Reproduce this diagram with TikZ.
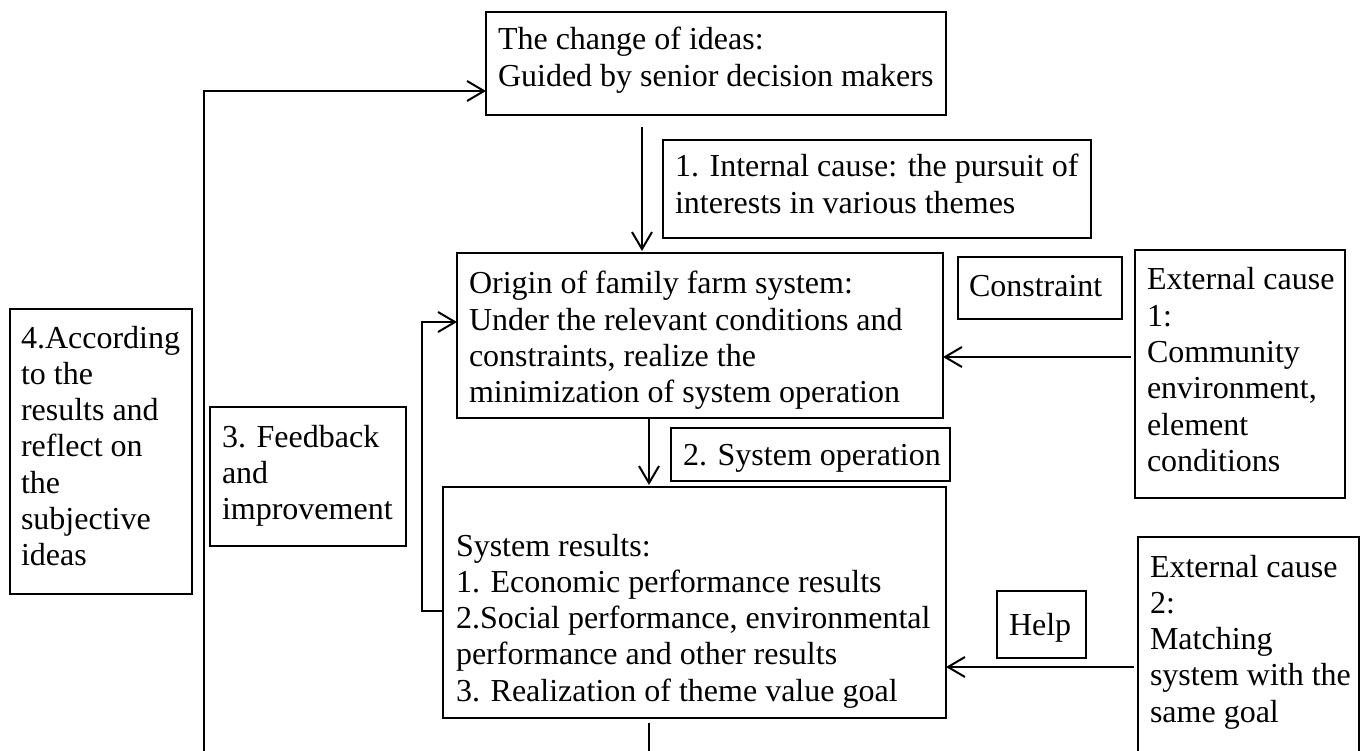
\documentclass[tikz,border=0pt]{standalone}
\usepackage{fontspec}
\setmainfont{Liberation Serif}
\usetikzlibrary{arrows.meta}
\newcommand{\bxt}[5]{\parbox[t][#2][t]{#1}{\raggedright\leftskip=#3\relax\rule{0pt}{#4}#5}}
\tikzset{
  bx/.style={draw, line width=1.3pt, inner sep=0pt, outer sep=0pt, anchor=north west,
    font=\fontsize{32}{36.3}\selectfont},
  conn/.style={line width=2pt, -{Straight Barb[length=17pt,width=20pt]}},
  link/.style={line width=2pt}
}
\begin{document}
\begin{tikzpicture}[x=1pt,y=-1pt]
\useasboundingbox (0,0) rectangle (1365,751);
\clip (0,0) rectangle (1365,751);
% boxes
\node[bx] (top) at (486,12) {\bxt{460pt}{103pt}{12pt}{38pt}{The change of ideas:\\Guided by senior decision makers}};
\node[bx] (intc) at (663,140) {\bxt{428pt}{98pt}{12pt}{37pt}{1. Internal cause: the pursuit of\\interests in various themes}};
\node[bx] (orig) at (457,253) {\bxt{486pt}{165pt}{12pt}{41pt}{Origin of family farm system:\\Under the relevant conditions and\\constraints, realize the\\minimization of system operation}};
\node[bx] (cons) at (958,257) {\bxt{164pt}{62pt}{11pt}{40pt}{Constraint}};
\node[bx] (ext1) at (1135,250) {\bxt{210pt}{248pt}{12pt}{40pt}{External cause\\1:\\Community\\environment,\\element\\conditions}};
\node[bx] (sysop) at (671,428) {\bxt{279pt}{53pt}{12pt}{37pt}{2. System operation}};
\node[bx] (res) at (443,487) {\bxt{503pt}{231pt}{13pt}{69pt}{System results:\\1. Economic performance results\\2.Social performance, environmental\\performance and other results\\3. Realization of theme value goal}};
\node[bx] (help) at (997,591) {\bxt{89pt}{67pt}{12pt}{44pt}{Help}};
\node[bx] (ext2) at (1138,537) {\bxt{221pt}{230pt}{12pt}{40pt}{External cause\\2:\\Matching\\system with the\\same goal}};
\node[bx] (acc) at (10,309) {\bxt{182pt}{285pt}{11pt}{39pt}{4.According\\to the\\results and\\reflect on\\the\\subjective\\ideas}};
\node[bx] (fb) at (210,407) {\bxt{196pt}{139pt}{12pt}{40pt}{3. Feedback\\and\\improvement}};
% helper coordinates
\coordinate (lb0) at (649,723);
\coordinate (lb) at (649,780);
\coordinate (lc) at (204,780);
\coordinate (ty) at (0,91);
\coordinate (t1) at (642,127);
\coordinate (bxc) at (649,0);
\coordinate (e1) at (1131,357);
\coordinate (e2) at (1134,667);
\coordinate (fbA) at (422,611);
\coordinate (fbB) at (422,322);
% connectors
\draw[conn] (lb0) -- (lb) -- (lc) |- (top.west |- ty);
\draw[conn, shorten >=2pt] (t1) -- (orig.north -| t1);
\draw[conn, shorten >=2pt] (orig.south -| bxc) -- (res.north -| bxc);
\draw[conn] (e1) -- (orig.east |- e1);
\draw[conn] (e2) -- (res.east |- e2);
\draw[conn] (res.west |- fbA) -- (fbA) -- (fbB) -- (orig.west |- fbB);
\end{tikzpicture}
\end{document}
